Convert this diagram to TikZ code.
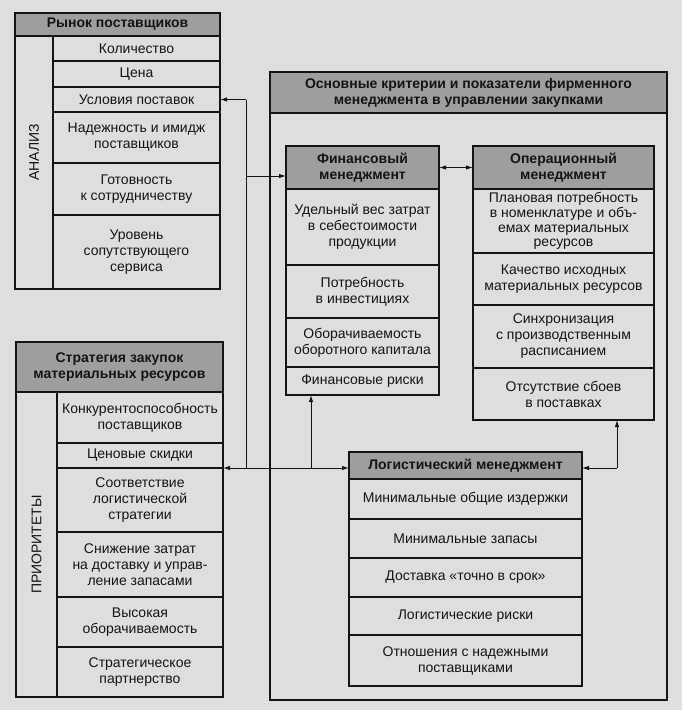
\documentclass[tikz,border=0pt]{standalone}
\usepackage{fontspec}
\setmainfont{Liberation Sans}
\usetikzlibrary{arrows.meta,positioning}
\definecolor{paper}{RGB}{222,222,220}
\definecolor{hdr}{RGB}{158,158,158}
\definecolor{ink}{RGB}{20,20,20}

\begin{document}
\begin{tikzpicture}[x=1pt,y=-1pt,
  box/.style={draw=ink,line width=1.1pt,outer sep=0pt,inner sep=1pt,align=center,
    text=ink,font=\fontsize{14}{16}\selectfont,anchor=north west},
  hd/.style={box,fill=hdr,font=\fontsize{14}{16}\selectfont\bfseries},
  row/.style={box,minimum height=#1},
  vlabel/.style={rotate=90,text=ink,font=\fontsize{14}{16}\selectfont},
  link/.style={draw=ink,line width=1pt},
  arr/.style={link,-{Latex[length=7pt,width=4.5pt]}},
  darr/.style={link,{Latex[length=7pt,width=4.5pt]}-{Latex[length=7pt,width=4.5pt]}},
]
  \fill[paper] (0,0) rectangle (682,710);
  \useasboundingbox (0,0) rectangle (682,710);

  \node[hd,minimum width=205,minimum height=23] (mkt) at (15,13) {Рынок поставщиков};
  \node[row=253,minimum width=38] (mside) at (15,36) {};
  \begin{scope}[every node/.append style={minimum width=167}]
    \node[row=25] (m1) at (53,36) {Количество};
    \node[row=26,below=0pt of m1] (m2) {Цена};
    \node[row=25,below=0pt of m2] (m3) {Условия поставок};
    \node[row=51,below=0pt of m3] (m4) {Надежность и имидж\\поставщиков};
    \node[row=52,below=0pt of m4] (m5) {Готовность\\к сотрудничеству};
    \node[row=74,below=0pt of m5] (m6) {Уровень\\сопутствующего\\сервиса};
  \end{scope}
  \node[vlabel] (manl) at ([yshift=10pt]mside.center) {АНАЛИЗ};

  \node[hd,minimum width=207,minimum height=50] (str) at (16,342) {Стратегия закупок\\материальных ресурсов};
  \node[row=305,minimum width=41] (sside) at (16,392) {};
  \begin{scope}[every node/.append style={minimum width=166}]
    \node[row=51] (s1) at (57,392) {Конкурентоспособность\\поставщиков};
    \node[row=25,below=0pt of s1] (s2) {Ценовые скидки};
    \node[row=64,below=0pt of s2] (s3) {Соответствие\\логистической\\стратегии};
    \node[row=65,below=0pt of s3] (s4) {Снижение затрат\\на доставку и управ-\\ление запасами};
    \node[row=50,below=0pt of s4] (s5) {Высокая\\оборачиваемость};
    \node[row=50,below=0pt of s5] (s6) {Стратегическое\\партнерство};
  \end{scope}
  \node[vlabel] (sprio) at (sside.center) {ПРИОРИТЕТЫ};

  \node[hd,minimum width=397,minimum height=41] (crit) at (270,72) {Основные критерии и показатели фирменного\\менеджмента в управлении закупками};
  \node[row=587,minimum width=397,below=0pt of crit] (critb) {};

  \begin{scope}[every node/.append style={minimum width=153}]
    \node[hd,minimum height=43] (fin) at (286,146) {Финансовый\\менеджмент};
    \node[row=76,below=0pt of fin] (f1) {Удельный вес затрат\\в себестоимости\\продукции};
    \node[row=53,below=0pt of f1] (f2) {Потребность\\в инвестициях};
    \node[row=49,below=0pt of f2] (f3) {Оборачиваемость\\оборотного капитала};
    \node[row=28,below=0pt of f3] (f4) {Финансовые риски};
  \end{scope}

  \begin{scope}[every node/.append style={minimum width=181}]
    \node[hd,minimum height=43] (op) at (473,146) {Операционный\\менеджмент};
    \node[row=64,below=0pt of op,font=\fontsize{14}{14.8}\selectfont] (o1) {Плановая потребность\\в номенклатуре и объ-\\емах материальных\\ресурсов};
    \node[row=52,below=0pt of o1] (o2) {Качество исходных\\материальных ресурсов};
    \node[row=63,below=0pt of o2] (o3) {Синхронизация\\с производственным\\расписанием};
    \node[row=52,below=0pt of o3] (o4) {Отсутствие сбоев\\в поставках};
  \end{scope}

  \begin{scope}[every node/.append style={minimum width=233}]
    \node[hd,minimum height=27] (lg) at (349,452) {Логистический менеджмент};
    \node[row=40,below=0pt of lg] (l1) {Минимальные общие издержки};
    \node[row=39,below=0pt of l1] (l2) {Минимальные запасы};
    \node[row=39,below=0pt of l2] (l3) {Доставка «точно в срок»};
    \node[row=38,below=0pt of l3] (l4) {Логистические риски};
    \node[row=51,below=0pt of l4] (l5) {Отношения с надежными\\поставщиками};
  \end{scope}

  \coordinate (bus) at (246,176);
  \coordinate (fup) at (311,468);
  \coordinate (oup) at (617,468);
  \draw[link] (bus |- m3.east) -- (bus |- s2.south east);
  \draw[arr] (bus |- m3.east) -- (m3.east);
  \draw[arr] (bus) -- (bus -| fin.west);
  \draw[arr] (bus |- s2.south east) -- (s2.south east);
  \draw[arr] (bus |- s2.south east) -- (s2.south east -| lg.west);
  \draw[arr] (fup) -- (fup |- f4.south);
  \draw[arr] (oup) -- (oup |- o4.south);
  \draw[arr] (oup) -- (oup -| lg.east);
  \draw[darr] (fin.east) -- (op.west);
\end{tikzpicture}
\end{document}
